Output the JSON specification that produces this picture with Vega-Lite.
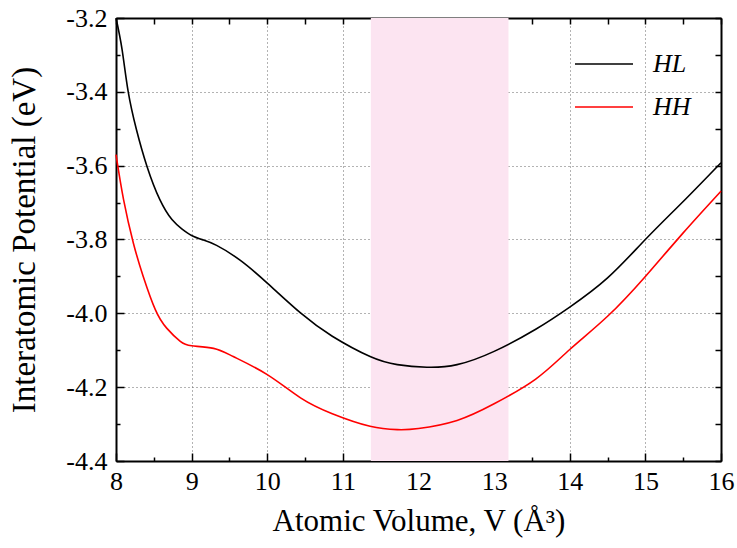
{
  "$schema": "https://vega.github.io/schema/vega-lite/v6.json",
  "width": 605,
  "height": 443,
  "autosize": {"type": "none"},
  "padding": {"left": 116, "top": 18, "right": 16, "bottom": 87},
  "background": "white",
  "datasets": {
    "band": [{"x0": 11.37, "x1": 13.19}],
    "curves": [
      {"series": "HL", "V": 8.00, "E": -3.200},
      {"series": "HL", "V": 8.08, "E": -3.285},
      {"series": "HL", "V": 8.16, "E": -3.398},
      {"series": "HL", "V": 8.27, "E": -3.502},
      {"series": "HL", "V": 8.41, "E": -3.602},
      {"series": "HL", "V": 8.58, "E": -3.692},
      {"series": "HL", "V": 8.74, "E": -3.746},
      {"series": "HL", "V": 8.87, "E": -3.771},
      {"series": "HL", "V": 9.00, "E": -3.789},
      {"series": "HL", "V": 9.15, "E": -3.801},
      {"series": "HL", "V": 9.33, "E": -3.816},
      {"series": "HL", "V": 9.64, "E": -3.856},
      {"series": "HL", "V": 10.00, "E": -3.918},
      {"series": "HL", "V": 10.44, "E": -3.999},
      {"series": "HL", "V": 10.86, "E": -4.062},
      {"series": "HL", "V": 11.36, "E": -4.117},
      {"series": "HL", "V": 11.72, "E": -4.139},
      {"series": "HL", "V": 12.11, "E": -4.146},
      {"series": "HL", "V": 12.51, "E": -4.139},
      {"series": "HL", "V": 13.00, "E": -4.103},
      {"series": "HL", "V": 13.55, "E": -4.043},
      {"series": "HL", "V": 14.00, "E": -3.983},
      {"series": "HL", "V": 14.50, "E": -3.904},
      {"series": "HL", "V": 15.00, "E": -3.800},
      {"series": "HL", "V": 15.50, "E": -3.697},
      {"series": "HL", "V": 16.00, "E": -3.592},
      {"series": "HH", "V": 8.00, "E": -3.570},
      {"series": "HH", "V": 8.10, "E": -3.692},
      {"series": "HH", "V": 8.23, "E": -3.810},
      {"series": "HH", "V": 8.36, "E": -3.900},
      {"series": "HH", "V": 8.52, "E": -3.990},
      {"series": "HH", "V": 8.67, "E": -4.040},
      {"series": "HH", "V": 8.85, "E": -4.076},
      {"series": "HH", "V": 9.00, "E": -4.088},
      {"series": "HH", "V": 9.29, "E": -4.095},
      {"series": "HH", "V": 9.55, "E": -4.117},
      {"series": "HH", "V": 10.00, "E": -4.166},
      {"series": "HH", "V": 10.44, "E": -4.229},
      {"series": "HH", "V": 10.86, "E": -4.272},
      {"series": "HH", "V": 11.36, "E": -4.306},
      {"series": "HH", "V": 11.72, "E": -4.315},
      {"series": "HH", "V": 12.00, "E": -4.312},
      {"series": "HH", "V": 12.51, "E": -4.290},
      {"series": "HH", "V": 13.00, "E": -4.245},
      {"series": "HH", "V": 13.55, "E": -4.178},
      {"series": "HH", "V": 14.00, "E": -4.098},
      {"series": "HH", "V": 14.50, "E": -4.008},
      {"series": "HH", "V": 15.00, "E": -3.900},
      {"series": "HH", "V": 15.50, "E": -3.782},
      {"series": "HH", "V": 16.00, "E": -3.669}
    ]
  },
  "config": {
    "view": {"stroke": null},
    "axis": {
      "labelFont": "Liberation Serif",
      "labelFontSize": 26,
      "labelColor": "black",
      "labelFlush": false,
      "titleFont": "Liberation Serif",
      "titleFontWeight": "normal",
      "titleColor": "black",
      "domainColor": "black",
      "domainWidth": 2,
      "tickColor": "black",
      "tickWidth": 1.5,
      "zindex": 1
    }
  },
  "layer": [
    {
      "data": {"name": "band"},
      "mark": {"type": "rect", "color": "#fce4f1"},
      "encoding": {
        "x": {
          "field": "x0", "type": "quantitative",
          "scale": {"domain": [8, 16], "nice": false, "zero": false},
          "axis": {"orient": "bottom", "title": null, "labels": false, "grid": false, "domain": false,
                   "values": [8.5, 9.5, 10.5, 11.5, 12.5, 13.5, 14.5, 15.5], "tickSize": -4}
        },
        "x2": {"field": "x1"},
        "y": {
          "datum": -4.4, "type": "quantitative",
          "scale": {"domain": [-4.4, -3.2], "nice": false, "zero": false},
          "axis": {"orient": "left", "title": null, "labels": false, "grid": false, "domain": false,
                   "values": [-3.3, -3.5, -3.7, -3.9, -4.1, -4.3], "tickSize": -4}
        },
        "y2": {"datum": -3.2}
      }
    },
    {
      "data": {"name": "curves"},
      "transform": [{"filter": "datum.series === 'HL'"}],
      "mark": {"type": "line", "strokeWidth": 1.6, "interpolate": "natural", "color": "black"},
      "encoding": {
        "x": {
          "field": "V", "type": "quantitative",
          "axis": {
            "orient": "bottom",
            "title": "Atomic Volume, V (Å³)",
            "titleFont": "Liberation Serif",
            "titleFontWeight": "normal",
            "titleColor": "black",
            "titleFontSize": 31,
            "titlePadding": 12,
            "values": [8, 9, 10, 11, 12, 13, 14, 15, 16],
            "format": "d",
            "tickSize": -8,
            "grid": true,
            "gridColor": "#666666", "gridDash": [1, 3], "gridWidth": 1,
            "labelPadding": 15
          }
        },
        "y": {
          "field": "E", "type": "quantitative",
          "axis": {
            "orient": "left",
            "title": "Interatomic Potential (eV)",
            "titleFont": "Liberation Serif",
            "titleFontWeight": "normal",
            "titleColor": "black",
            "titleFontSize": 33,
            "titlePadding": 24,
            "values": [-3.2, -3.4, -3.6, -3.8, -4.0, -4.2, -4.4],
            "tickSize": -8,
            "grid": true,
            "gridColor": "#666666", "gridDash": [1, 3], "gridWidth": 1,
            "labelPadding": 17,
            "labelExpr": "replace(format(datum.value, '.1f'), '\u2212', '-')"
          }
        },
        "color": {
          "field": "series", "type": "nominal",
          "scale": {"domain": ["HL", "HH"], "range": ["#000000", "#ff0000"]},
          "legend": {
            "title": null,
            "orient": "none",
            "legendX": 458,
            "legendY": 16,
            "symbolType": "stroke",
            "symbolSize": 3364,
            "symbolStrokeWidth": 1.6,
            "labelFont": "Liberation Serif",
            "labelFontSize": 26,
            "labelFontStyle": "italic",
            "labelColor": "black",
            "labelOffset": 19,
            "rowPadding": -19,
            "padding": 0
          }
        }
      }
    },
    {
      "data": {"name": "curves"},
      "transform": [{"filter": "datum.series === 'HH'"}],
      "mark": {"type": "line", "strokeWidth": 1.6, "interpolate": "natural"},
      "encoding": {
        "x": {
          "field": "V", "type": "quantitative",
          "axis": {"orient": "top", "title": null, "labels": false, "grid": false,
                   "values": [8, 8.5, 9, 9.5, 10, 10.5, 11, 11.5, 12, 12.5, 13, 13.5, 14, 14.5, 15, 15.5, 16], "tickSize": -6}
        },
        "y": {
          "field": "E", "type": "quantitative",
          "axis": {"orient": "right", "title": null, "labels": false, "grid": false,
                   "values": [-3.2, -3.3, -3.4, -3.5, -3.6, -3.7, -3.8, -3.9, -4.0, -4.1, -4.2, -4.3, -4.4], "tickSize": -6}
        },
        "color": {"field": "series", "type": "nominal"}
      }
    }
  ],
  "resolve": {"axis": {"x": "independent", "y": "independent"}}
}
